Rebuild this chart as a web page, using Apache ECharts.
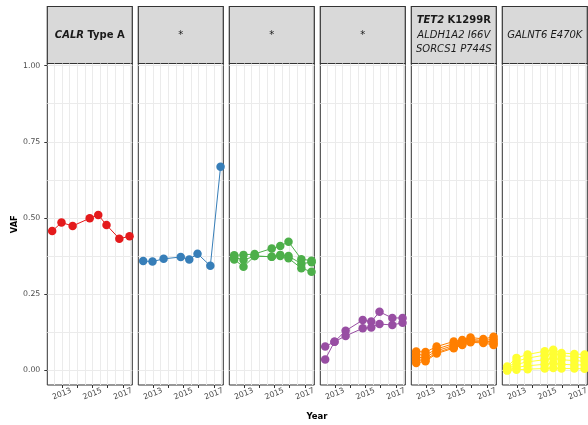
<!DOCTYPE html>
<html>
<head>
<meta charset="utf-8">
<script src="https://cdn.jsdelivr.net/npm/echarts@6/dist/echarts.min.js"></script>
<style>
  html, body { margin: 0; padding: 0; background: #ffffff; }
  #chart { width: 588px; height: 425px; }
</style>
</head>
<body>
<div id="chart"></div>
<script>
// Sampling times (decimal years), shared by every clone
const sampleYears = [2012.36, 2012.97, 2013.70, 2014.82, 2015.38, 2015.92, 2016.76, 2017.43];

// Variant allele fractions per clone
const calrTypeA = [0.457, 0.485, 0.474, 0.499, 0.510, 0.477, 0.432, 0.440];

const clone2 = [0.359, 0.357, 0.366, 0.372, 0.364, 0.383, 0.343, 0.668];

const clone3a = [0.378, 0.379, 0.382, 0.400, 0.408, 0.422, 0.365, 0.360];
const clone3b = [0.372, 0.362, 0.375, 0.373, 0.379, 0.375, 0.350, 0.355];
const clone3c = [0.364, 0.340, 0.375, 0.373, 0.375, 0.368, 0.335, 0.324];

const clone4a = [0.078, 0.094, 0.130, 0.165, 0.160, 0.192, 0.172, 0.172];
const clone4b = [0.036, 0.094, 0.113, 0.138, 0.141, 0.152, 0.149, 0.156];

const tet2a = [0.062, 0.060, 0.078, 0.095, 0.100, 0.108, 0.103, 0.110];
const tet2b = [0.052, 0.050, 0.070, 0.088, 0.095, 0.102, 0.098, 0.102];
const tet2c = [0.042, 0.042, 0.064, 0.082, 0.090, 0.098, 0.095, 0.095];
const tet2d = [0.033, 0.035, 0.058, 0.077, 0.086, 0.095, 0.093, 0.088];
const tet2e = [0.024, 0.030, 0.055, 0.073, 0.083, 0.092, 0.090, 0.083];

const galnt6a = [0.013, 0.041, 0.052, 0.063, 0.068, 0.057, 0.054, 0.052];
const galnt6b = [0.008, 0.030, 0.040, 0.050, 0.055, 0.048, 0.045, 0.040];
const galnt6c = [0.004, 0.020, 0.028, 0.035, 0.040, 0.035, 0.032, 0.030];
const galnt6d = [0.000, 0.010, 0.015, 0.020, 0.024, 0.020, 0.018, 0.018];
const galnt6e = [0.000, 0.002, 0.004, 0.006, 0.008, 0.006, 0.006, 0.005];

// Axis breaks
const yTickValues = [0, 0.25, 0.5, 0.75, 1];
const yGridValues = [0, 0.125, 0.25, 0.375, 0.5, 0.625, 0.75, 0.875, 1];
const xTickYears = [2013, 2014, 2015, 2016, 2017];
const xLabelYears = [2013, 2015, 2017];
const xGridYears = [2012.5, 2013, 2013.5, 2014, 2014.5, 2015, 2015.5, 2016, 2016.5, 2017, 2017.5];

// Facet strip labels (rich text)
const stripLabels = [
  '{bi|CALR}{b| Type A}',
  '{n|*}',
  '{n|*}',
  '{n|*}',
  '{bi|TET2}{b| K1299R}\n{i|ALDH1A2 I66V}\n{i|SORCS1 P744S}',
  '{i|GALNT6 E470K}'
];

const panelColors = ['#E41A1C', '#377EB8', '#4DAF4A', '#984EA3', '#FF7F00', '#FFFF33'];
const panelLines = [
  [calrTypeA],
  [clone2],
  [clone3a, clone3b, clone3c],
  [clone4a, clone4b],
  [tet2a, tet2b, tet2c, tet2d, tet2e],
  [galnt6a, galnt6b, galnt6c, galnt6d, galnt6e]
];

// Layout
const FONT = 'DejaVu Sans';
const PANEL_LEFT = 47.3;
const PANEL_STEP = 91;
const PANEL_W = 85;
const PANEL_TOP = 63.5;
const PANEL_H = 321.5;
const STRIP_TOP = 6.5;
const X_MIN = 2012.04, X_MAX = 2017.61;
const Y_MIN = -0.048, Y_MAX = 1.007;

const gridLineStyle = { color: '#ebebeb', width: 1, type: 'solid' };
const nPanels = panelLines.length;

const grids = [], xAxes = [], yAxes = [], series = [], graphics = [];

// Primary axes (ticks + labels), one pair per panel
panelLines.forEach((lines, i) => {
  const left = PANEL_LEFT + i * PANEL_STEP;
  grids.push({
    left: left, top: PANEL_TOP, width: PANEL_W, height: PANEL_H,
    containLabel: false, outerBoundsMode: 'none',
    show: true, backgroundColor: '#ffffff', borderColor: '#333333', borderWidth: 1, z: 0
  });
  xAxes.push({
    type: 'value', gridIndex: i, min: X_MIN, max: X_MAX, position: 'bottom',
    axisLine: { show: false, onZero: false },
    splitLine: { show: false },
    axisTick: { show: true, length: 3, customValues: xTickYears, lineStyle: { color: '#333333', width: 1 } },
    axisLabel: {
      show: true, customValues: xLabelYears, rotate: 22, align: 'center', verticalAlign: 'middle',
      margin: 9, color: '#4d4d4d', fontSize: 7.8, fontFamily: FONT,
      formatter: v => String(Math.round(v))
    }
  });
  yAxes.push({
    type: 'value', gridIndex: i, min: Y_MIN, max: Y_MAX, position: 'left',
    axisLine: { show: false, onZero: false },
    splitLine: { show: false },
    axisTick: { show: i === 0, length: 3, customValues: yTickValues, lineStyle: { color: '#333333', width: 1 } },
    axisLabel: {
      show: i === 0, customValues: yTickValues, margin: 7, color: '#4d4d4d',
      fontSize: 7.8, fontFamily: FONT, formatter: v => v.toFixed(2)
    },
    name: i === 0 ? 'VAF' : '',
    nameLocation: 'middle', nameRotate: 90, nameGap: 28,
    nameTextStyle: { fontWeight: 'bold', fontSize: 8.3, color: '#000000', fontFamily: FONT }
  });

  lines.forEach(vals => {
    series.push({
      type: 'line', xAxisIndex: i, yAxisIndex: i, z: 3, silent: true, animation: false,
      data: sampleYears.map((yr, k) => [yr, vals[k]]),
      symbol: 'circle', symbolSize: 8.5, showSymbol: true,
      lineStyle: { color: panelColors[i], width: 1 },
      itemStyle: { color: panelColors[i] },
      emphasis: { disabled: true }
    });
  });

  // facet strip
  graphics.push({
    type: 'rect', silent: true,
    shape: { x: left, y: STRIP_TOP, width: PANEL_W, height: PANEL_TOP - STRIP_TOP },
    style: { fill: '#d9d9d9', stroke: '#333333', lineWidth: 1.2 }
  });
  graphics.push({
    type: 'text', silent: true,
    style: {
      text: stripLabels[i], x: left + PANEL_W / 2, y: (STRIP_TOP + PANEL_TOP) / 2,
      align: 'center', verticalAlign: 'middle', fill: '#1a1a1a',
      fontFamily: FONT, fontSize: 10, lineHeight: 14.3,
      rich: {
        bi: { fontWeight: 'bold', fontStyle: 'italic', fontSize: 10, fontFamily: FONT, lineHeight: 14.3, fill: '#1a1a1a' },
        b: { fontWeight: 'bold', fontSize: 10, fontFamily: FONT, lineHeight: 14.3, fill: '#1a1a1a' },
        i: { fontStyle: 'italic', fontSize: 10, fontFamily: FONT, lineHeight: 14.3, fill: '#1a1a1a' },
        n: { fontSize: 10, fontFamily: FONT, lineHeight: 14.3, fill: '#1a1a1a' }
      }
    }
  });
});

// Secondary axes that only draw the background grid (major + minor breaks)
for (let i = 0; i < nPanels; i++) {
  xAxes.push({
    type: 'value', gridIndex: i, min: X_MIN, max: X_MAX, position: 'bottom',
    axisLine: { show: false, onZero: false },
    axisTick: { show: false, customValues: xGridYears },
    axisLabel: { show: false },
    splitLine: { show: true, lineStyle: gridLineStyle }
  });
  yAxes.push({
    type: 'value', gridIndex: i, min: Y_MIN, max: Y_MAX, position: 'left',
    axisLine: { show: false, onZero: false },
    axisTick: { show: false, customValues: yGridValues },
    axisLabel: { show: false },
    splitLine: { show: true, lineStyle: gridLineStyle }
  });
}

graphics.push({
  type: 'text', silent: true,
  style: {
    text: 'Year', x: 317, y: 417, align: 'center', verticalAlign: 'middle',
    fontFamily: FONT, fontSize: 8.5, fontWeight: 'bold', fill: '#000000'
  }
});

const chart = echarts.init(document.getElementById('chart'), null, { renderer: 'canvas' });
chart.setOption({
  backgroundColor: '#ffffff',
  animation: false,
  grid: grids,
  xAxis: xAxes,
  yAxis: yAxes,
  series: series,
  graphic: graphics
});
</script>
</body>
</html>
